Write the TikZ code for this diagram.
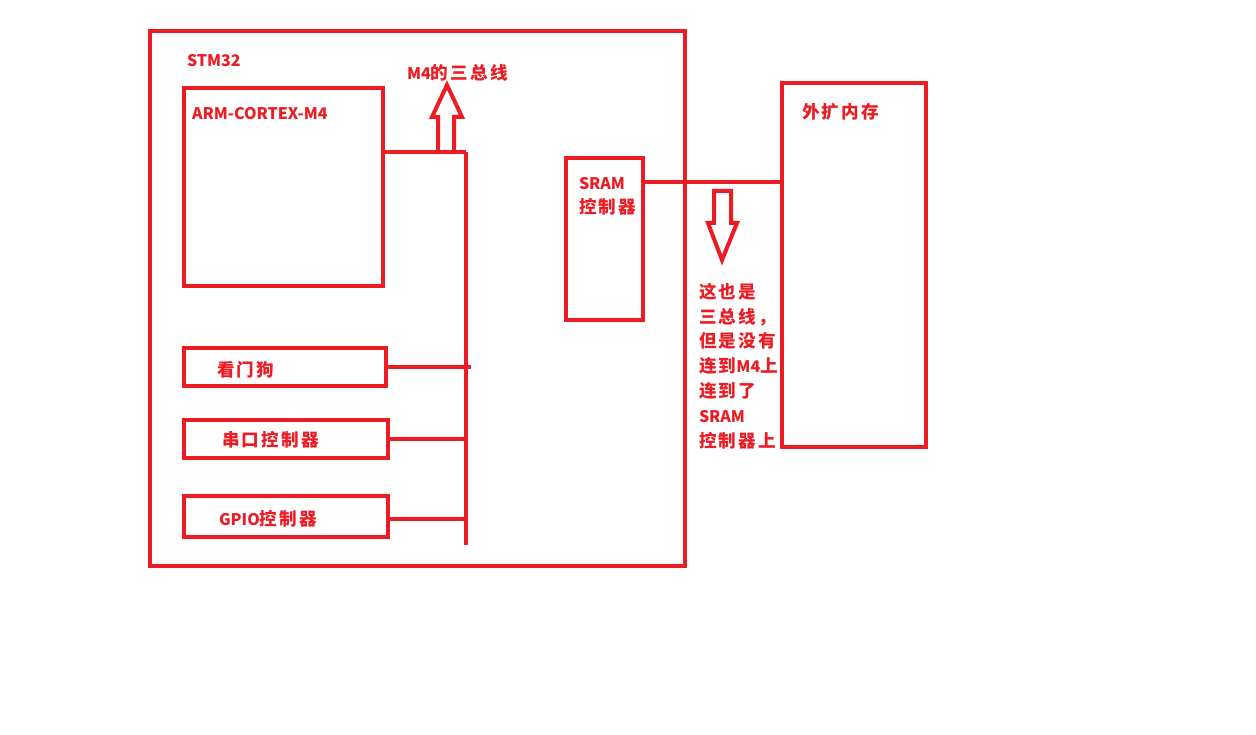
\documentclass[tikz,border=0pt]{standalone}
\usepackage{fontspec}
\setmainfont{Noto Sans CJK SC}
\newfontfamily\cjk{Noto Sans CJK SC}[Scale=1.1, LetterSpace=13]
\usetikzlibrary{positioning}
\definecolor{pred}{RGB}{237,28,36}

\begin{document}
\begin{tikzpicture}[x=1pt, y=-1pt, line width=4pt,
  blk/.style = {draw=pred, rectangle, inner sep=0pt, outer sep=0pt, anchor=north west},
  lbl/.style = {text=pred, inner sep=0pt, anchor=west, align=left,
                font=\fontsize{16}{24.8}\selectfont\bfseries},
  bus/.style = {draw=pred, line width=3.5pt}]
  \useasboundingbox (0,0) rectangle (1256,735);

  \node[blk, minimum width=535pt, minimum height=535pt] (stm) at (150,31) {};
  \node[lbl] (stmname) at (185,61) {STM32};

  \node[blk, minimum width=199pt, minimum height=198pt] (arm) at (184,88) {};
  \node[lbl] (armname) at (190,114) {ARM-CORTEX-M4};

  \node[blk, minimum width=202pt, minimum height=38pt] (wdg) at (184,348) {};
  \node[lbl] at (215,370) {\cjk 看门狗};
  \node[blk, minimum width=204pt, minimum height=38pt] (uart) at (184,420) {};
  \node[lbl] at (220,440) {\cjk 串口控制器};
  \node[blk, minimum width=204pt, minimum height=41pt] (gpio) at (184,496) {};
  \node[lbl] at (217,519) {GPIO{\cjk 控制器}};

  \node[blk, minimum width=77pt, minimum height=162pt] (sram) at (566,158) {};
  \node[lbl, anchor=north west] at (577,175) {SRAM\\{\cjk 控制器}};

  \node[blk, minimum width=144pt, minimum height=364pt] (ext) at (782,83) {};
  \node[lbl] at (800,112) {\cjk 外扩内存};

  \coordinate (bustop) at (466,152);
  \coordinate (busbot) at (466,545);
  \coordinate (sbus) at (643,182);

  \draw[bus] (bustop) -- (busbot);
  \draw[bus] (arm.east |- bustop) -- (bustop);
  \draw[bus] (wdg.east) -- ++(85,0);
  \draw[bus] (uart.east) -- (uart.east -| bustop);
  \draw[bus] (gpio.east |- 0,519) -- (busbot |- 0,519);
  \draw[bus] (sbus) -- (sbus -| ext.west);

  \draw[pred] (438,150) -- (438,117) -- (432,117) -- (447,85) -- (462,117)
    -- (454,117) -- (454,150);
  \node[lbl] (m4bus) at (405,73) {M4{\cjk 的三总线}};

  \draw[pred] (714,191) -- (731,191) -- (731,223) -- (737,223) -- (722,260)
    -- (708,223) -- (714,223) -- cycle;
  \node[lbl, anchor=north west] (note) at (697,281)
    {{\cjk 这也是}\\{\cjk 三总线，}\\{\cjk 但是没有}\\{\cjk 连到}M4{\cjk 上}\\{\cjk 连到了}\\SRAM\\{\cjk 控制器上}};
\end{tikzpicture}
\end{document}
